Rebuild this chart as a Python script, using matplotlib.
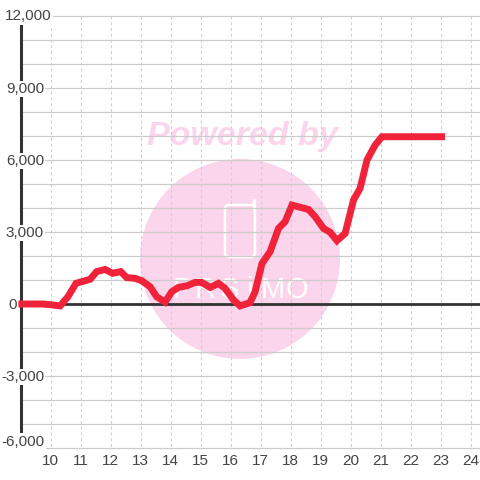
import matplotlib
matplotlib.use("Agg")
import matplotlib.pyplot as plt
from matplotlib.patches import Ellipse, FancyBboxPatch

hours = [8.93, 9.75, 10.0, 10.32, 10.58, 10.85, 11.32, 11.54, 11.82, 12.07, 12.34, 12.54,
         12.82, 13.04, 13.32, 13.54, 13.82, 14.04, 14.26, 14.55, 14.82, 15.04, 15.32,
         15.6, 15.82, 16.1, 16.32, 16.65, 16.82, 17.05, 17.32, 17.6, 17.82, 18.05,
         18.6, 18.82, 19.1, 19.32, 19.55, 19.82, 20.1, 20.32, 20.55, 20.82, 21.05, 23.15]
profit = [0, 0, -30, -80, 300, 860, 1030, 1350, 1440, 1280, 1350, 1100,
          1070, 970, 720, 300, 80, 510, 690, 760, 900, 900, 690,
          860, 650, 170, -80, 55, 510, 1690, 2180, 3150, 3430, 4120,
          3940, 3640, 3150, 2990, 2640, 2940, 4330, 4820, 6000, 6620, 6970, 6970]

x_ticks = list(range(10, 25))
y_grid = list(range(-6000, 13000, 1000))
y_labels = [12000, 9000, 6000, 3000, 0, -3000, -6000]
logo_letters = ["P", "R", "S", "i", "M", "O"]

# the labels do not share one right edge or sit exactly on their lines
label_right = [52, 44, 44, 44, 17, 44, 44]
label_y = [16.5, 89, 161, 233, 305, 377, 441.5]
letter_x = [182, 205, 229, 250, 273, 297]

px_per_hour = 30.0
px_per_1000 = 24.0
x_left = 10 - 50.5 / px_per_hour
x_right = x_left + 480 / px_per_hour
y_top = 304 / px_per_1000 * 1000
y_bottom = (304 - 480) / px_per_1000 * 1000


def px(v):
    return x_left + v / px_per_hour


def py(v):
    return (304 - v) / px_per_1000 * 1000


plt.rcParams["font.family"] = ["Liberation Sans", "DejaVu Sans"]

fig = plt.figure(figsize=(4.8, 4.8), dpi=100)
ax = fig.add_axes([0, 0, 1, 1])
ax.set_xlim(x_left, x_right)
ax.set_ylim(y_bottom, y_top)
ax.axis("off")

# watermark sits under the grid
pink = "#fbd5ec"
ax.add_patch(Ellipse((px(240), py(259)), 200 / px_per_hour, 200 / px_per_1000 * 1000,
                     color=pink, lw=0, zorder=1))
ax.text(px(242), py(136.5), "Powered by", color=pink, fontsize=24.5, fontweight="bold",
        fontstyle="italic", ha="center", va="center", zorder=1)
ax.add_patch(FancyBboxPatch((px(225), py(257)), 30 / px_per_hour, 52 / px_per_1000 * 1000,
                            boxstyle="round,pad=0,rounding_size=0.13", mutation_aspect=1250,
                            fill=False, ec="white", lw=1.8, zorder=1.5))
ax.plot([px(254.5), px(254.5)], [py(200), py(208)], color="white", lw=2.4, zorder=1.5)
for letter, lx in zip(logo_letters, letter_x):
    ax.text(px(lx), py(290), letter, color="white", fontsize=21, ha="center", va="center", zorder=1.5)

for v in x_ticks:
    ax.plot([v, v], [py(16), py(449)], color="#cfcfcf", lw=0.8, dashes=(2.6, 2.6), zorder=2)
    ax.text(v, py(461), str(v), color="#444444", fontsize=11, ha="center", va="center", zorder=5)

for v in y_grid:
    start = 46 if v == -6000 else 20
    ax.plot([px(start), px(480)], [v, v], color="#cccccc", lw=0.9, zorder=2)

ax.plot([px(20.5), px(20.5)], [py(24), py(436)], color="#333333", lw=2.2, solid_capstyle="butt", zorder=3)
ax.plot([px(20), px(480)], [0, 0], color="#333333", lw=2, solid_capstyle="butt", zorder=3)

for v, right, ypos in zip(y_labels, label_right, label_y):
    ax.text(px(right), py(ypos), f"{v:,}", color="#444444", fontsize=11, ha="right", va="center",
            zorder=3.5, bbox=dict(facecolor="white", edgecolor="none", pad=1))

ax.plot(hours, profit, color="#f0233a", lw=5, solid_joinstyle="miter", solid_capstyle="butt", zorder=4)

fig.savefig("out.png", dpi=100)
